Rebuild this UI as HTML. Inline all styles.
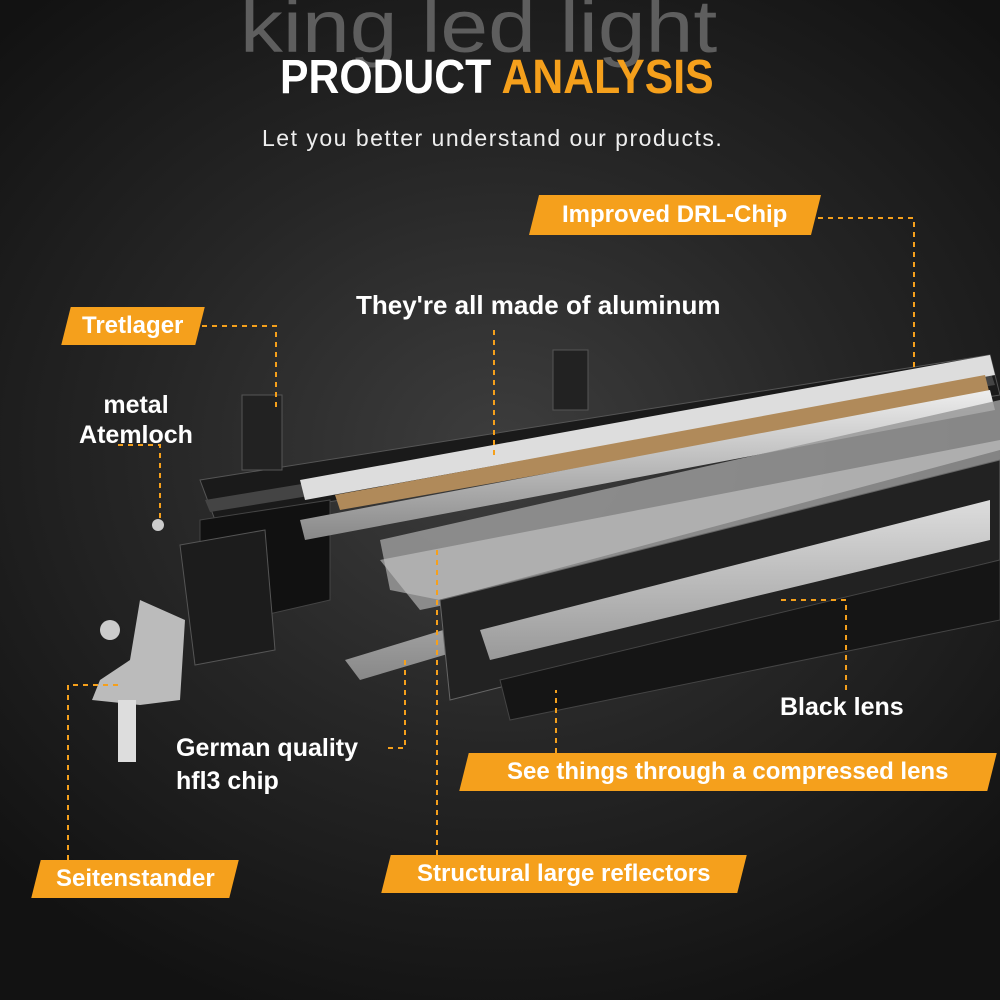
<!DOCTYPE html>
<html><head><meta charset="utf-8"><style>
html,body{margin:0;padding:0}
body{width:1000px;height:1000px;position:relative;overflow:hidden;font-family:"Liberation Sans",sans-serif;
background:radial-gradient(ellipse 70% 60% at 50% 45%,#3d3d3d 0%,#262626 50%,#121212 100%);}
.wm{position:absolute;left:240px;top:-16px;font-size:74px;color:#5e5e5e;font-weight:normal;transform-origin:0 0;transform:scaleX(1.16)}
.title{position:absolute;top:50px;left:280px;font-size:48px;font-weight:900;white-space:nowrap;transform-origin:0 0;transform:scaleX(0.89)}
.sub{position:absolute;top:125px;left:262px;font-size:23px;color:#eee;letter-spacing:1.5px;white-space:nowrap}
.tag{position:absolute;background:#f5a01c;color:#fff;font-weight:bold;font-size:24px;transform:skewX(-14deg);display:flex;align-items:center;justify-content:center}
.tag span{transform:skewX(14deg);white-space:nowrap}
.lbl{position:absolute;color:#fff;font-weight:bold;font-size:25px;line-height:30px;white-space:nowrap}
svg{position:absolute;left:0;top:0}
</style></head><body>
<div class="wm">king led light</div>
<div class="title"><span style="color:#fff">PRODUCT</span> <span style="color:#f5a01c">ANALYSIS</span></div>
<div class="sub">Let you better understand our products.</div>

<svg width="1000" height="1000" viewBox="0 0 1000 1000">
 <defs>
  <linearGradient id="al" x1="0" y1="0" x2="0" y2="1"><stop offset="0" stop-color="#eee"/><stop offset="1" stop-color="#888"/></linearGradient>
  <linearGradient id="lens" x1="0" y1="0" x2="0" y2="1"><stop offset="0" stop-color="#ddd"/><stop offset="1" stop-color="#999"/></linearGradient>
 </defs>
 <polygon points="200,480 990,355 1000,395 215,520" fill="#1a1a1a" stroke="#555"/>
 <polygon points="205,500 990,370 995,385 210,512" fill="#444"/>
 <polygon points="200,520 330,500 330,600 200,630" fill="#111" stroke="#444"/>
 <polygon points="300,480 990,355 995,375 305,500" fill="#ddd"/>
 <polygon points="335,495 985,375 990,395 340,510" fill="#b08a5a"/>
 <polygon points="300,520 990,390 995,410 305,540" fill="url(#al)"/>
 <polygon points="380,540 1000,400 1000,450 440,600 390,590" fill="#9a9a9a" opacity="0.85"/>
 <polygon points="380,560 1000,440 1000,490 420,610" fill="#c8c8c8" opacity="0.6"/>
 <polygon points="345,660 1000,460 1000,490 360,680" fill="url(#al)"/>
 <polygon points="440,600 1000,460 1000,560 450,700" fill="#222" stroke="#666"/>
 <polygon points="480,630 990,500 990,540 490,660" fill="url(#lens)"/>
 <polygon points="500,680 1000,560 1000,620 510,720" fill="#151515" stroke="#444"/>
 <polygon points="180,545 265,530 275,650 195,665" fill="#1c1c1c" stroke="#555"/>
 <rect x="242" y="395" width="40" height="75" fill="#222" stroke="#555"/>
 <rect x="553" y="350" width="35" height="60" fill="#222" stroke="#555"/>
 <polygon points="140,600 185,620 180,700 140,705 92,700 100,680 130,660" fill="#bbb"/>
 <rect x="118" y="700" width="18" height="62" fill="#ddd"/>
 <circle cx="110" cy="630" r="10" fill="#ccc"/><circle cx="158" cy="525" r="6" fill="#ccc"/>
 <g stroke="#f5a01c" stroke-width="2" stroke-dasharray="5,5" fill="none">
  <polyline points="818,218 914,218 914,370"/>
  <polyline points="202,326 276,326 276,410"/>
  <polyline points="494,330 494,460"/>
  <polyline points="118,445 160,445 160,520"/>
  <polyline points="388,748 405,748 405,660"/>
  <polyline points="437,855 437,550"/>
  <polyline points="68,860 68,685 120,685"/>
  <polyline points="846,690 846,600 780,600"/>
  <polyline points="556,753 556,690"/>
 </g>
</svg>

<div class="tag" style="left:534px;top:195px;width:282px;height:40px"><span>Improved DRL-Chip</span></div>
<div class="tag" style="left:66px;top:307px;width:134px;height:38px"><span>Tretlager</span></div>
<div class="tag" style="left:464px;top:753px;width:528px;height:38px"><span>See things through a compressed lens</span></div>
<div class="tag" style="left:386px;top:855px;width:356px;height:38px"><span>Structural large reflectors</span></div>
<div class="tag" style="left:36px;top:860px;width:198px;height:38px"><span>Seitenstander</span></div>

<div class="lbl" style="left:356px;top:290px;font-size:26px">They're all made of aluminum</div>
<div class="lbl" style="left:74px;top:390px;text-align:center;width:124px">metal<br>Atemloch</div>
<div class="lbl" style="left:176px;top:732px;line-height:33px">German quality<br>hfl3 chip</div>
<div class="lbl" style="left:780px;top:692px">Black lens</div>
</body></html>
